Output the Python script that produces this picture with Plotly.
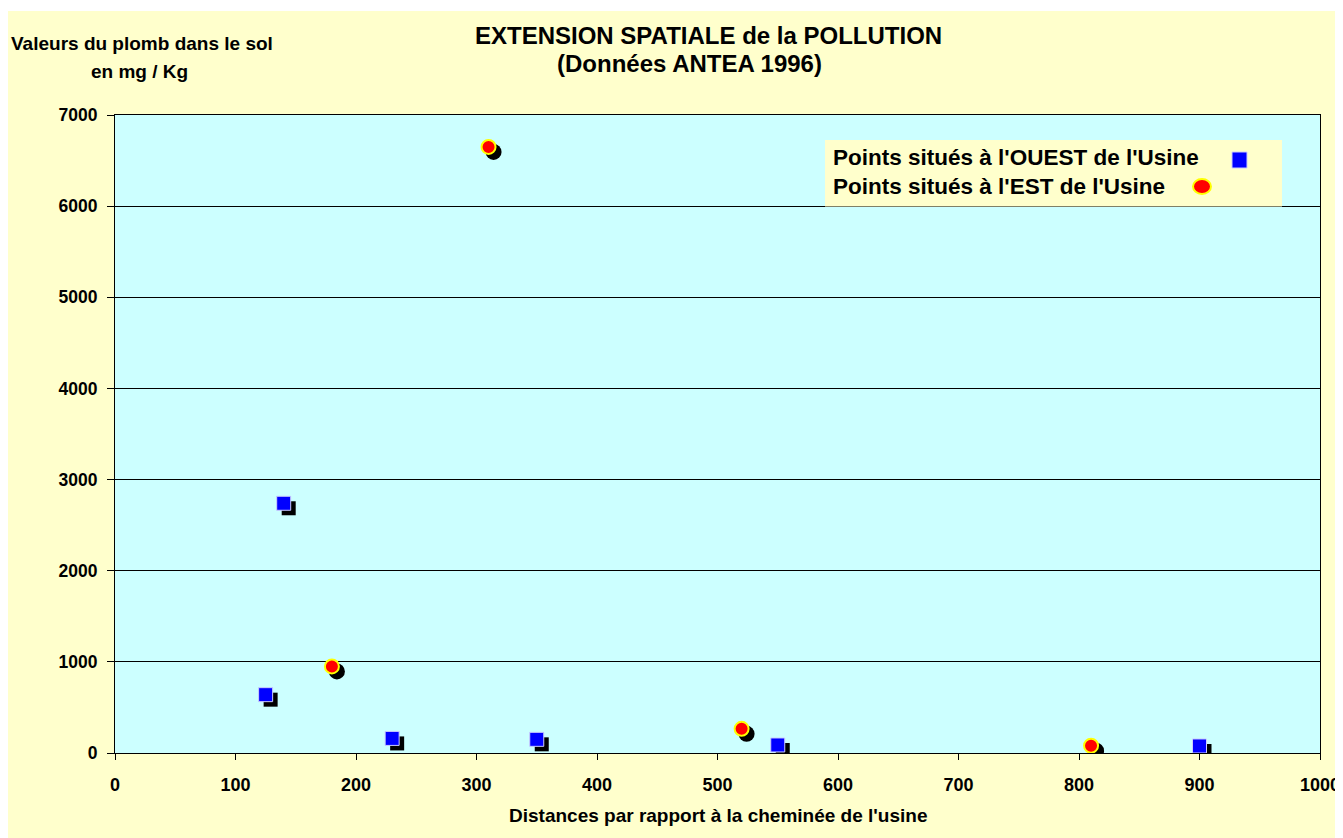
import plotly.graph_objects as go

# ---- data ----
ouest_x = [125, 140, 230, 350, 550, 900]
ouest_y = [640, 2740, 160, 150, 88, 77]
est_x = [180, 310, 520, 810]
est_y = [950, 6650, 265, 80]

x_ticks = [0, 100, 200, 300, 400, 500, 600, 700, 800, 900, 1000]
y_ticks = [0, 1000, 2000, 3000, 4000, 5000, 6000, 7000]

name_ouest = "Points situés à l'OUEST de l'Usine"
name_est = "Points situés à l'EST de l'Usine"

# ---- layout geometry ----
W, H = 1343, 838
OFF = 8  # page (body) margin
L, R, T, B = 107, 31, 107, 93
x_range = [0, 1000]
y_range = [0, 7000]
pw = W - L - R
ph = H - T - B


def fx(sx):
    return (sx - OFF - L) / pw


def fy(sy):
    return 1 - (sy - OFF - T) / ph


# shadow offset (pixels converted to data units)
sdx = 5 * (x_range[1] - x_range[0]) / pw
sdy = 5 * (y_range[1] - y_range[0]) / ph

FONT = "Liberation Sans, Arial, sans-serif"
CREAM = "#FFFFCC"
CYAN = "#CCFFFF"

fig = go.Figure()

# shadows
fig.add_trace(go.Scatter(
    x=[v + sdx for v in ouest_x], y=[v - sdy for v in ouest_y], mode="markers",
    marker=dict(symbol="square", size=14, color="black", line=dict(width=0)),
    showlegend=False, hoverinfo="skip"))
fig.add_trace(go.Scatter(
    x=[v + sdx for v in est_x], y=[v - sdy for v in est_y], mode="markers",
    marker=dict(symbol="circle", size=16, color="black", line=dict(width=0)),
    showlegend=False, hoverinfo="skip"))

# main series
fig.add_trace(go.Scatter(
    x=ouest_x, y=ouest_y, mode="markers", name=name_ouest,
    marker=dict(symbol="square", size=14, color="#0000FF",
                line=dict(width=1, color="#CCCCFF")),
    showlegend=False))
fig.add_trace(go.Scatter(
    x=est_x, y=est_y, mode="markers", name=name_est,
    marker=dict(symbol="circle", size=14, color="#FF0000",
                line=dict(width=2, color="#FFFF00")),
    showlegend=False))

shapes = [
    # thin white strip at the very top of the page
    dict(type="rect", xref="paper", yref="paper", x0=fx(0), x1=fx(W + 20), y0=fy(11), y1=fy(0),
         fillcolor="white", line=dict(width=0), layer="below"),
    # legend box
    dict(type="rect", xref="paper", yref="paper", x0=fx(825), x1=fx(1282), y0=fy(206.5), y1=fy(140),
         fillcolor=CREAM, line=dict(width=0), layer="above"),
    dict(type="rect", xref="paper", yref="paper", x0=fx(1232), x1=fx(1247), y0=fy(168), y1=fy(152),
         fillcolor="#0000FF", line=dict(width=1, color="#CCCCFF"), layer="above"),
    dict(type="circle", xref="paper", yref="paper", x0=fx(1193), x1=fx(1211), y0=fy(194), y1=fy(179),
         fillcolor="#FF0000", line=dict(width=2, color="#FFFF00"), layer="above"),
]

annotations = [
    dict(text="<b>EXTENSION SPATIALE de la POLLUTION</b>", x=fx(708), y=fy(35),
         font=dict(size=24)),
    dict(text="<b>(Données ANTEA 1996)</b>", x=fx(689), y=fy(64),
         font=dict(size=24)),
    dict(text="<b>Valeurs du plomb dans le sol</b>", x=fx(142), y=fy(43),
         font=dict(size=19)),
    dict(text="<b>en mg / Kg</b>", x=fx(139), y=fy(71),
         font=dict(size=19)),
    dict(text="<b>Distances par rapport à la cheminée de l'usine</b>", x=fx(718), y=fy(815),
         font=dict(size=19)),
    dict(text="<b>" + name_ouest + "</b>", x=fx(831), y=fy(158), xanchor="left",
         font=dict(size=22.5)),
    dict(text="<b>" + name_est + "</b>", x=fx(831), y=fy(186.5), xanchor="left",
         font=dict(size=22.5)),
]
for a in annotations:
    a.update(xref="paper", yref="paper", showarrow=False, yanchor="middle",
             xanchor=a.get("xanchor", "center"))
    a["font"].update(family=FONT, color="black")

fig.update_layout(
    width=W, height=H,
    margin=dict(l=L, r=R, t=T, b=B, pad=0),
    paper_bgcolor=CREAM, plot_bgcolor=CYAN,
    font=dict(family=FONT, color="black"),
    shapes=shapes, annotations=annotations,
    showlegend=False,
)
fig.update_xaxes(
    range=x_range, tickmode="array", tickvals=x_ticks, ticktext=[str(v) for v in x_ticks],
    showgrid=False, zeroline=False,
    showline=True, linecolor="black", linewidth=1, mirror=True,
    ticks="outside", ticklen=6, tickcolor="black", tickwidth=1,
    tickfont=dict(family=FONT, size=18, color="black", weight="bold"),
    ticklabelstandoff=9,
)
fig.update_yaxes(
    range=y_range, tickmode="array", tickvals=y_ticks, ticktext=[str(v) for v in y_ticks],
    showgrid=True, gridcolor="black", gridwidth=1, zeroline=False,
    showline=True, linecolor="black", linewidth=1, mirror=True,
    ticks="outside", ticklen=7, tickcolor="black", tickwidth=1,
    tickfont=dict(family=FONT, size=17.5, color="black", weight="bold"),
    ticklabelstandoff=6,
)

fig.write_html("out.html")
